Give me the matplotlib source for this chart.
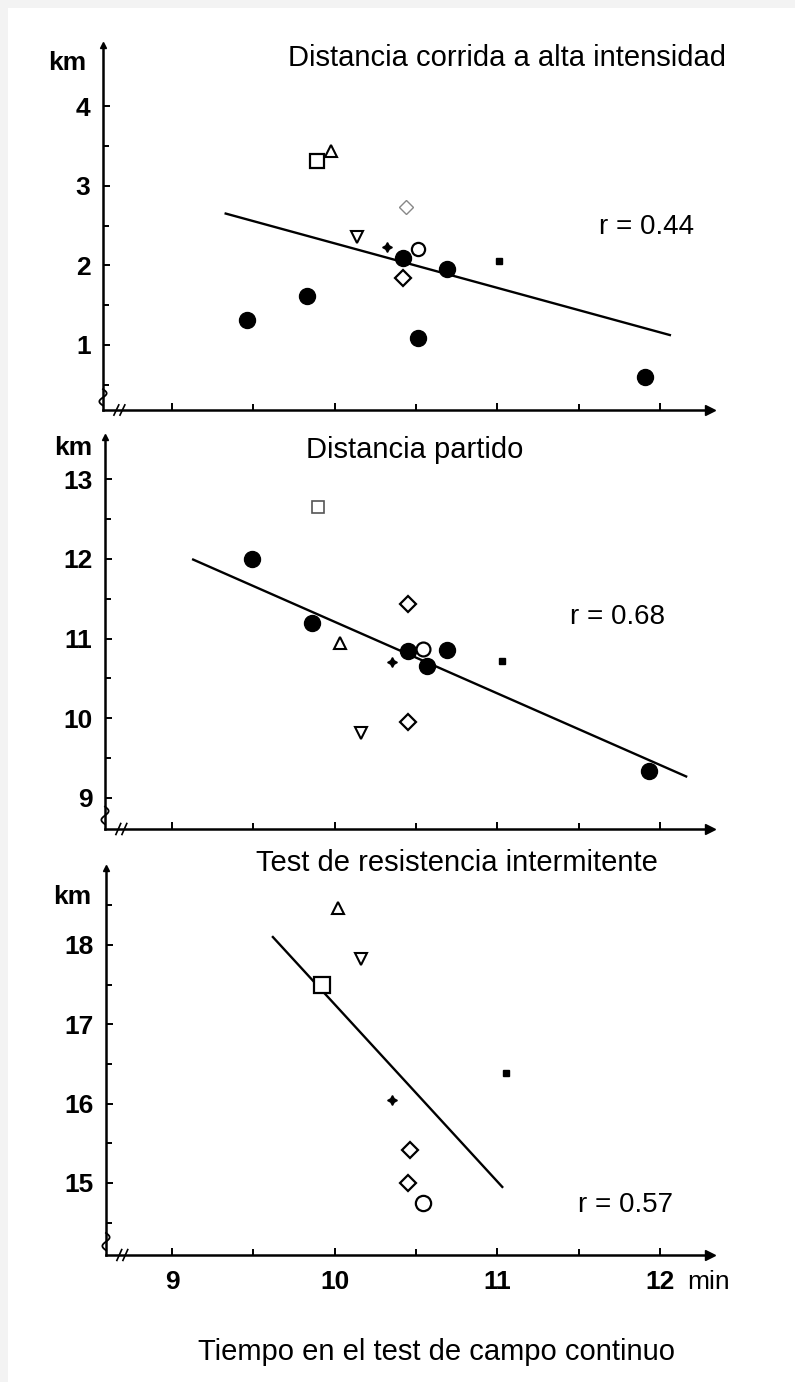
import matplotlib
matplotlib.use('Agg')
import numpy as np
import matplotlib.pyplot as plt
from matplotlib.patches import Rectangle

plt.rcParams['font.family'] = ['Liberation Sans', 'DejaVu Sans']

# ---------------- data ----------------
x_ticks = [9, 10, 11, 12]
x_minor = [9.5, 10.5, 11.5]

# Panel 1: Distancia corrida a alta intensidad (km)
p1_filled_x = [9.46, 9.83, 10.42, 10.69, 10.51, 11.91]
p1_filled_y = [1.31, 1.61, 2.09, 1.96, 1.09, 0.60]
p1_opencirc_x = [10.51]
p1_opencirc_y = [2.21]
p1_square_x = [9.89]
p1_square_y = [3.31]
p1_triup_x = [9.98]
p1_triup_y = [3.44]
p1_tridown_x = [10.14]
p1_tridown_y = [2.35]
p1_star_x = [10.32]
p1_star_y = [2.23]
p1_diamond_x = [10.42]
p1_diamond_y = [1.84]
p1_faintdiam_x = [10.44]
p1_faintdiam_y = [2.73]
p1_smallsq_x = [11.01]
p1_smallsq_y = [2.06]
p1_line_x = [9.33, 12.06]
p1_line_y = [2.65, 1.125]
p1_yticks = [1, 2, 3, 4]
p1_yminor = [0.5, 1.5, 2.5, 3.5]

# Panel 2: Distancia partido (km)
p2_filled_x = [9.49, 9.86, 10.45, 10.57, 10.69, 11.93]
p2_filled_y = [12.0, 11.19, 10.84, 10.66, 10.85, 9.34]
p2_opencirc_x = [10.54]
p2_opencirc_y = [10.87]
p2_square_x = [9.90]
p2_square_y = [12.65]
p2_triup_x = [10.03]
p2_triup_y = [10.94]
p2_tridown_x = [10.16]
p2_tridown_y = [9.82]
p2_star_x = [10.35]
p2_star_y = [10.71]
p2_diamond_x = [10.45, 10.45]
p2_diamond_y = [11.43, 9.95]
p2_smallsq_x = [11.03]
p2_smallsq_y = [10.72]
p2_line_x = [9.13, 12.16]
p2_line_y = [11.99, 9.27]
p2_yticks = [9, 10, 11, 12, 13]
p2_yminor = [9.5, 10.5, 11.5, 12.5]

# Panel 3: Test de resistencia intermitente (km)
p3_opencirc_x = [10.54]
p3_opencirc_y = [14.75]
p3_square_x = [9.92]
p3_square_y = [17.49]
p3_triup_x = [10.02]
p3_triup_y = [18.47]
p3_tridown_x = [10.16]
p3_tridown_y = [17.82]
p3_star_x = [10.35]
p3_star_y = [16.04]
p3_diamond_x = [10.46, 10.45]
p3_diamond_y = [15.42, 15.0]
p3_smallsq_x = [11.05]
p3_smallsq_y = [16.39]
p3_line_x = [9.62, 11.03]
p3_line_y = [18.10, 14.95]
p3_yticks = [15, 16, 17, 18]
p3_yminor = [14.5, 15.5, 16.5, 17.5, 18.5]

titles = ["Distancia corrida a alta intensidad", "Distancia partido",
          "Test de resistencia intermitente"]
r_labels = ["r = 0.44", "r = 0.68", "r = 0.57"]
x_label = "Tiempo en el test de campo continuo"
y_unit = "km"
x_unit = "min"

# ---------------- figure ----------------
W, H = 795, 1382
fig = plt.figure(figsize=(W / 100, H / 100), dpi=100)
fig.patch.set_facecolor('#f3f3f3')
fig.add_artist(Rectangle((8 / W, 0), 1 - 8 / W, 1 - 8 / H, transform=fig.transFigure,
                         facecolor='white', edgecolor='none', zorder=-10))


def px_rect(left, right, top, bottom):
    return [left / W, 1 - bottom / H, (right - left) / W, (bottom - top) / H]


def setup(ax, xlim, ylim, yticks, yminor, show_xlabels):
    ax.set_xlim(*xlim)
    ax.set_ylim(*ylim)
    ax.set_facecolor('none')
    for s in ['top', 'right']:
        ax.spines[s].set_visible(False)
    for s in ['left', 'bottom']:
        ax.spines[s].set_linewidth(1.8)
    ax.set_xticks(x_ticks)
    ax.set_xticks(x_minor, minor=True)
    ax.set_yticks(yticks)
    ax.set_yticks(yminor, minor=True)
    ax.tick_params(which='both', direction='in', width=1.4, color='black')
    ax.tick_params(which='major', length=5)
    ax.tick_params(which='minor', length=4)
    ax.tick_params(axis='y', which='major', labelsize=19, pad=9)
    ax.tick_params(axis='x', which='major', labelsize=19, pad=11)
    for lab in ax.get_yticklabels():
        lab.set_fontweight('bold')
    if show_xlabels:
        for lab in ax.get_xticklabels():
            lab.set_fontweight('bold')
    else:
        ax.set_xticklabels([])
    # arrow heads on axes
    ax.plot([1], [0], marker='>', ms=7, color='black', transform=ax.transAxes, clip_on=False)
    ax.plot([0], [1], marker='^', ms=5, color='black', transform=ax.transAxes, clip_on=False)
    # break marks on the x axis near the origin
    for dx in (0.022, 0.032):
        ax.plot([dx - 0.004, dx + 0.004], [-0.014, 0.014], color='black', lw=1.2,
                transform=ax.transAxes, clip_on=False)
    # small squiggle on the y axis near the origin
    t = np.linspace(0, 1, 30)
    ax.plot(-0.006 * np.sin(2 * np.pi * t), 0.012 + 0.045 * t, color='black', lw=1.3,
            transform=ax.transAxes, clip_on=False)


def draw_points(ax, filled=None, opencirc=None, square=None, triup=None, tridown=None,
                star=None, diamond=None, smallsq=None, faintdiam=None, line=None,
                sq_ms=10, oc_ms=10, faint_square=False):
    k = 'black'
    if line is not None:
        ax.plot(line[0], line[1], color=k, lw=1.7, zorder=2)
    if filled is not None:
        ax.plot(filled[0], filled[1], 'o', ms=11.5, mfc=k, mec=k, ls='none', zorder=3)
    if opencirc is not None:
        ax.plot(opencirc[0], opencirc[1], 'o', ms=oc_ms, mfc='white', mec=k, mew=1.6,
                ls='none', zorder=4)
    if square is not None:
        if faint_square:
            ax.plot(square[0], square[1], 's', ms=8, mfc='white', mec='#555555', mew=1.2,
                    ls='none', zorder=4)
        else:
            ax.plot(square[0], square[1], 's', ms=sq_ms, mfc='white', mec=k, mew=1.6,
                    ls='none', zorder=4)
    if triup is not None:
        ax.plot(triup[0], triup[1], '^', ms=8, mfc='white', mec=k, mew=1.5, ls='none', zorder=4)
    if tridown is not None:
        ax.plot(tridown[0], tridown[1], 'v', ms=8, mfc='white', mec=k, mew=1.5, ls='none', zorder=4)
    if star is not None:
        ax.plot(star[0], star[1], marker=(4, 1, 0), ms=7, mfc=k, mec=k, ls='none', zorder=4)
    if diamond is not None:
        ax.plot(diamond[0], diamond[1], 'D', ms=8, mfc='white', mec=k, mew=1.6, ls='none', zorder=4)
    if smallsq is not None:
        ax.plot(smallsq[0], smallsq[1], 's', ms=4.5, mfc=k, mec=k, ls='none', zorder=4)
    if faintdiam is not None:
        ax.plot(faintdiam[0], faintdiam[1], 'D', ms=7, mfc='white', mec='#888888', mew=1.0,
                ls='none', zorder=4)


def xlim_for(left, right):
    ppm = 162.7          # pixels per minute
    xmin = 9 - (172 - left) / ppm
    return (xmin, xmin + (right - left) / ppm)


# ---- Panel 1
ax1 = fig.add_axes(px_rect(103, 710, 45, 410))
setup(ax1, xlim_for(103, 710), (0.184, 4.766), p1_yticks, p1_yminor, False)
draw_points(ax1, filled=(p1_filled_x, p1_filled_y), opencirc=(p1_opencirc_x, p1_opencirc_y),
            square=(p1_square_x, p1_square_y), triup=(p1_triup_x, p1_triup_y),
            tridown=(p1_tridown_x, p1_tridown_y), star=(p1_star_x, p1_star_y),
            diamond=(p1_diamond_x, p1_diamond_y), smallsq=(p1_smallsq_x, p1_smallsq_y),
            faintdiam=(p1_faintdiam_x, p1_faintdiam_y), line=(p1_line_x, p1_line_y),
            sq_ms=10, oc_ms=9.5)

# ---- Panel 2
ax2 = fig.add_axes(px_rect(105, 710, 437, 829))
setup(ax2, xlim_for(105, 710), (8.611, 13.527), p2_yticks, p2_yminor, False)
draw_points(ax2, filled=(p2_filled_x, p2_filled_y), opencirc=(p2_opencirc_x, p2_opencirc_y),
            square=(p2_square_x, p2_square_y), triup=(p2_triup_x, p2_triup_y),
            tridown=(p2_tridown_x, p2_tridown_y), star=(p2_star_x, p2_star_y),
            diamond=(p2_diamond_x, p2_diamond_y), smallsq=(p2_smallsq_x, p2_smallsq_y),
            line=(p2_line_x, p2_line_y), oc_ms=10, faint_square=True)

# ---- Panel 3
ax3 = fig.add_axes(px_rect(106, 710, 868, 1255))
setup(ax3, xlim_for(106, 710), (14.092, 18.97), p3_yticks, p3_yminor, True)
draw_points(ax3, opencirc=(p3_opencirc_x, p3_opencirc_y),
            square=(p3_square_x, p3_square_y), triup=(p3_triup_x, p3_triup_y),
            tridown=(p3_tridown_x, p3_tridown_y), star=(p3_star_x, p3_star_y),
            diamond=(p3_diamond_x, p3_diamond_y), smallsq=(p3_smallsq_x, p3_smallsq_y),
            line=(p3_line_x, p3_line_y), sq_ms=11.5, oc_ms=11)


def ftext(x, y, s, **kw):
    fig.text(x / W, 1 - y / H, s, **kw)


# titles, r values, units
ftext(507, 58, titles[0], ha='center', va='center', fontsize=21)
ftext(415, 450, titles[1], ha='center', va='center', fontsize=21)
ftext(457, 863, titles[2], ha='center', va='center', fontsize=21)
ftext(647, 227, r_labels[0], ha='center', va='center', fontsize=20)
ftext(618, 617, r_labels[1], ha='center', va='center', fontsize=20)
ftext(626, 1205, r_labels[2], ha='center', va='center', fontsize=20)
for (x, y) in [(67, 63), (73, 448), (72, 897)]:
    ftext(x, y, y_unit, ha='center', va='center', fontsize=19, fontweight='bold')
ftext(687, 1282, x_unit, ha='left', va='center', fontsize=19)
ftext(437, 1352, x_label, ha='center', va='center', fontsize=21)

fig.savefig('out.png', dpi=100, facecolor=fig.get_facecolor())
